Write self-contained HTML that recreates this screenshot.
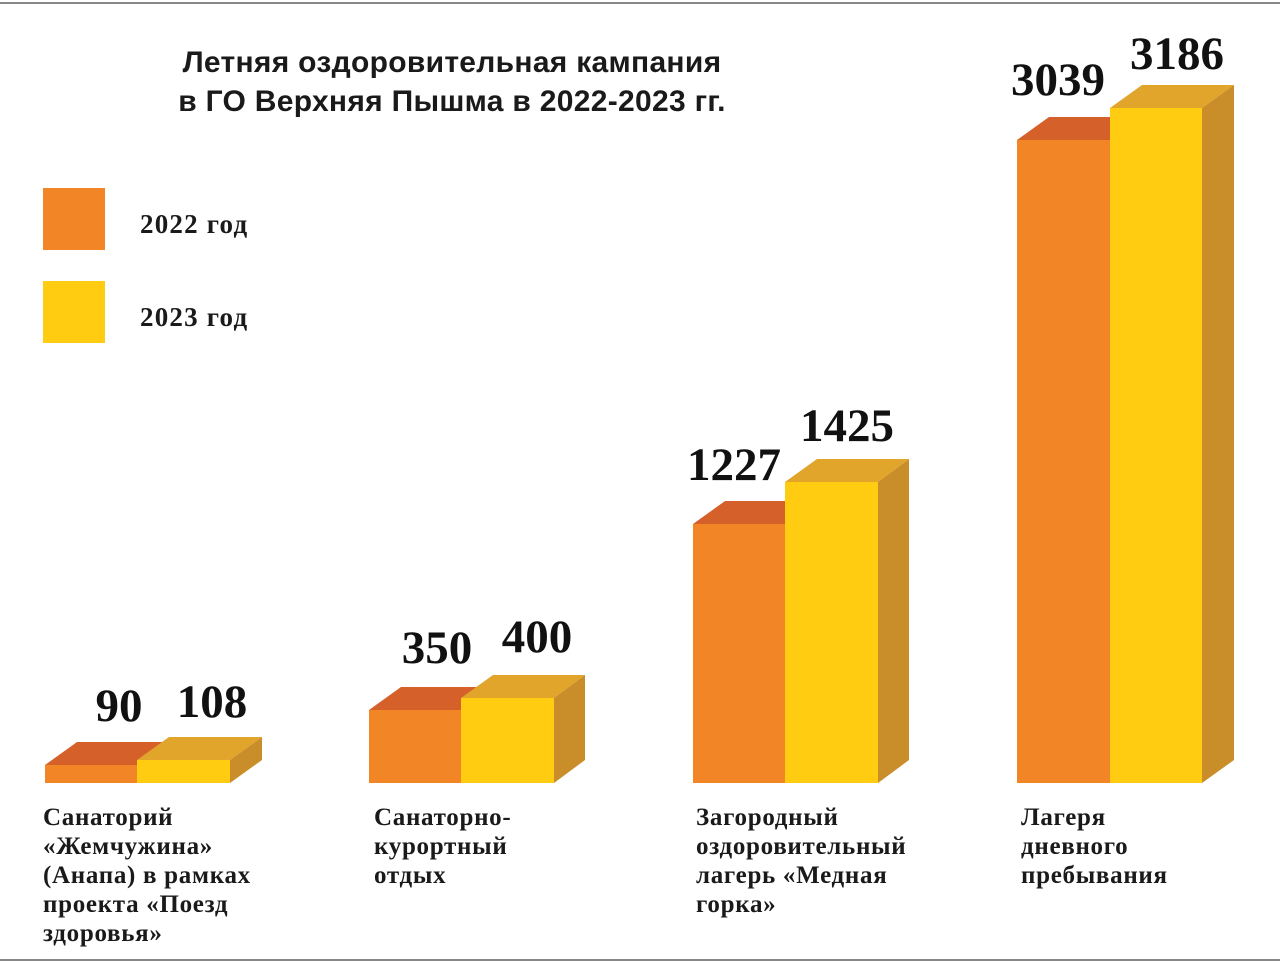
<!DOCTYPE html>
<html><head><meta charset="utf-8"><style>
body{margin:0;background:#fff}
svg{display:block}
.v{font-family:"Liberation Serif","DejaVu Serif",serif;font-weight:bold;font-size:47px;fill:#111}
.c{font-family:"Liberation Serif","DejaVu Serif",serif;font-weight:bold;font-size:25px;letter-spacing:0.7px;fill:#1a1a1a}
.t{font-family:"Liberation Sans","DejaVu Sans",sans-serif;font-weight:bold;font-size:30px;letter-spacing:0.3px;fill:#1a1a1a}
</style></head><body>
<svg width="1280" height="962" viewBox="0 0 1280 962" xmlns="http://www.w3.org/2000/svg">
<rect width="1280" height="962" fill="#fff"/>
<line x1="0" y1="3" x2="1280" y2="3" stroke="#888" stroke-width="2"/>
<line x1="0" y1="960" x2="1280" y2="960" stroke="#888" stroke-width="2"/>
<text class="t" x="452" y="72" text-anchor="middle">Летняя оздоровительная кампания</text>
<text class="t" x="452" y="111" text-anchor="middle">в ГО Верхняя Пышма в 2022-2023 гг.</text>
<rect x="43" y="188" width="62" height="62" fill="#F28627"/>
<rect x="43" y="281" width="62" height="62" fill="#FFCC11"/>
<text class="c" x="140" y="233" style="font-size:27px;letter-spacing:1.2px">2022 год</text>
<text class="c" x="140" y="326" style="font-size:27px;letter-spacing:1.2px">2023 год</text>
<!-- group 1 -->
<polygon points="45,765 137,765 169,742 77,742" fill="#D6602A"/>
<rect x="45" y="765" width="92" height="18" fill="#F28627"/>
<polygon points="137,760 230,760 262,737 169,737" fill="#E0A52A"/>
<polygon points="230,760 262,737 262,760 230,783" fill="#C98E2A"/>
<rect x="137" y="760" width="93" height="23" fill="#FFCC11"/>
<!-- group 2 -->
<polygon points="369,710 461,710 493,687 401,687" fill="#D6602A"/>
<rect x="369" y="710" width="92" height="73" fill="#F28627"/>
<polygon points="461,698 554,698 585,675 493,675" fill="#E0A52A"/>
<polygon points="554,698 585,675 585,760 554,783" fill="#C98E2A"/>
<rect x="461" y="698" width="93" height="85" fill="#FFCC11"/>
<!-- group 3 -->
<polygon points="693,524 785,524 817,501 725,501" fill="#D6602A"/>
<rect x="693" y="524" width="92" height="259" fill="#F28627"/>
<polygon points="785,482 878,482 909,459 817,459" fill="#E0A52A"/>
<polygon points="878,482 909,459 909,760 878,783" fill="#C98E2A"/>
<rect x="785" y="482" width="93" height="301" fill="#FFCC11"/>
<!-- group 4 -->
<polygon points="1017,140 1110,140 1142,117 1049,117" fill="#D6602A"/>
<rect x="1017" y="140" width="93" height="643" fill="#F28627"/>
<polygon points="1110,108 1202,108 1234,85 1142,85" fill="#E0A52A"/>
<polygon points="1202,108 1234,85 1234,760 1202,783" fill="#C98E2A"/>
<rect x="1110" y="108" width="92" height="675" fill="#FFCC11"/>
<!-- values -->
<text class="v" x="119" y="721" text-anchor="middle">90</text>
<text class="v" x="212" y="717" text-anchor="middle">108</text>
<text class="v" x="437" y="663" text-anchor="middle">350</text>
<text class="v" x="537" y="652" text-anchor="middle">400</text>
<text class="v" x="734" y="480" text-anchor="middle">1227</text>
<text class="v" x="847" y="441" text-anchor="middle">1425</text>
<text class="v" x="1058" y="95" text-anchor="middle">3039</text>
<text class="v" x="1177" y="69" text-anchor="middle">3186</text>
<!-- categories -->
<g class="c">
<text x="43" y="825">Санаторий</text><text x="43" y="854">«Жемчужина»</text><text x="43" y="883">(Анапа) в рамках</text><text x="43" y="912">проекта «Поезд</text><text x="43" y="941">здоровья»</text>
<text x="374" y="825">Санаторно-</text><text x="374" y="854">курортный</text><text x="374" y="883">отдых</text>
<text x="696" y="825">Загородный</text><text x="696" y="854">оздоровительный</text><text x="696" y="883">лагерь «Медная</text><text x="696" y="912">горка»</text>
<text x="1021" y="825">Лагеря</text><text x="1021" y="854">дневного</text><text x="1021" y="883">пребывания</text>
</g>
</svg>
</body></html>
